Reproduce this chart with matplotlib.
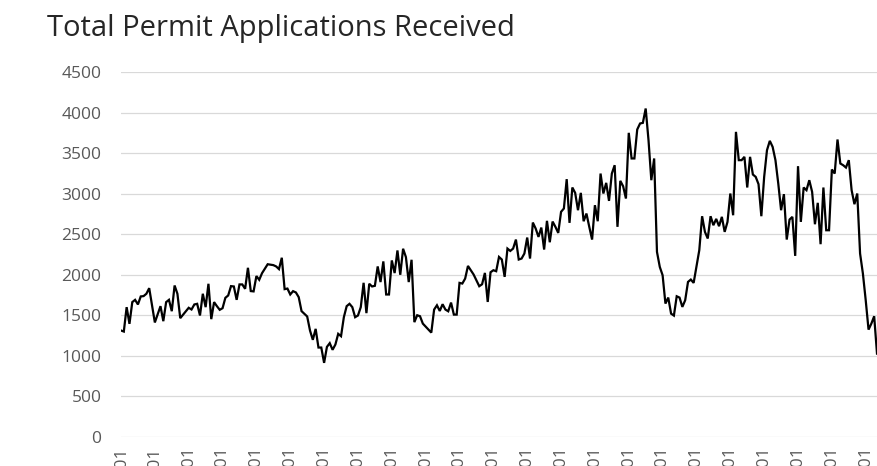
import matplotlib
matplotlib.use('Agg')
import matplotlib.pyplot as plt

# month index (0 = first January) and applications received
months = [0, 1, 2, 3, 4, 5, 6, 7, 8, 9, 10, 12, 14, 15, 16, 17, 18, 19, 20, 21,
          23, 24, 25, 26, 27, 28, 29, 30, 31, 32, 33, 34, 35, 36, 37, 38, 39, 40, 41, 42,
          43, 44, 45, 46, 47, 48, 49, 50, 52, 54, 55, 56, 57, 58, 59, 60, 61, 62, 63, 64,
          65, 66, 67, 68, 69, 70, 71, 72, 73, 74, 75, 76, 77, 78, 79, 80, 81, 82, 83, 84,
          85, 86, 87, 88, 89, 90, 91, 92, 93, 94, 95, 96, 97, 98, 99, 100, 101, 102, 103, 104,
          105, 106, 107, 109, 110, 111, 112, 113, 114, 115, 116, 117, 118, 119, 120, 121, 122, 123, 124, 125,
          127, 128, 129, 130, 131, 132, 133, 134, 135, 136, 137, 138, 139, 140, 141, 142, 143, 144, 145, 146,
          147, 148, 149, 150, 151, 152, 153, 154, 155, 156, 157, 158, 159, 160, 161, 162, 163, 164, 165, 166,
          167, 168, 169, 170, 171, 172, 173, 174, 175, 176, 177, 178, 179, 180, 181, 182, 183, 184, 185, 186,
          187, 188, 189, 190, 191, 192, 193, 194, 195, 196, 197, 198, 199, 200, 201, 202, 203, 204, 205, 206,
          207, 208, 209, 210, 211, 212, 213, 214, 215, 216, 217, 218, 219, 220, 221, 222, 223, 224, 225, 226,
          227, 228, 229, 230, 231, 232, 233, 234, 235, 236, 237, 238, 239, 240, 241, 242, 243, 244, 245, 246,
          247, 248, 249, 250, 251, 252, 253, 254, 255, 256, 257, 258, 259, 260, 261, 262, 263, 264, 265, 266,
          267, 268]
applications = [1313, 1300, 1601, 1395, 1663, 1691, 1634, 1733, 1737, 1766, 1835, 1412, 1613, 1428, 1663, 1691, 1551, 1868, 1766, 1465,
                1551, 1593, 1572, 1634, 1642, 1498, 1766, 1601, 1889, 1453, 1663, 1613, 1568, 1588, 1716, 1745, 1860, 1856, 1691, 1881,
                1881, 1827, 2086, 1799, 1795, 1984, 1938, 2020, 2130, 2119, 2103, 2070, 2210, 1823, 1830, 1757, 1798, 1782, 1724, 1552,
                1519, 1486, 1313, 1198, 1333, 1103, 1103, 914, 1111, 1157, 1075, 1140, 1272, 1243, 1477, 1613, 1642, 1601, 1477, 1498,
                1601, 1901, 1527, 1889, 1856, 1864, 2103, 1910, 2165, 1757, 1757, 2177, 2021, 2300, 2000, 2321, 2218, 1910, 2185, 1416,
                1501, 1489, 1398, 1324, 1287, 1571, 1624, 1554, 1637, 1571, 1550, 1657, 1509, 1509, 1900, 1892, 1953, 2109, 2056, 2003,
                1859, 1883, 2023, 1665, 2031, 2056, 2044, 2220, 2188, 1974, 2323, 2294, 2323, 2434, 2188, 2200, 2262, 2459, 2200, 2644,
                2570, 2467, 2582, 2311, 2665, 2401, 2656, 2591, 2516, 2776, 2817, 3179, 2640, 3076, 3010, 2796, 3010, 2660, 2755, 2591,
                2434, 2858, 2660, 3248, 3002, 3133, 2911, 3248, 3351, 2591, 3158, 3092, 2940, 3750, 3434, 3434, 3791, 3865, 3873, 4050,
                3660, 3166, 3434, 2282, 2097, 1994, 1645, 1719, 1521, 1497, 1735, 1719, 1604, 1686, 1912, 1941, 1900, 2105, 2303, 2722,
                2529, 2447, 2722, 2611, 2689, 2599, 2714, 2529, 2652, 3002, 2734, 3762, 3413, 3413, 3454, 3076, 3454, 3236, 3207, 3117,
                2722, 3207, 3536, 3651, 3577, 3413, 3125, 2796, 2994, 2434, 2681, 2714, 2233, 3339, 2652, 3076, 3043, 3166, 3022, 2623,
                2887, 2377, 3076, 2549, 2549, 3298, 3248, 3668, 3372, 3351, 3322, 3413, 3043, 2870, 3002, 2262, 2015, 1686, 1324, 1398,
                1489, 1028]

first_year = 1998
tick_months = list(range(0, 265, 12))
tick_labels = [f"{first_year + i}-01" for i in range(len(tick_months))]

plt.rcParams['font.family'] = ['Open Sans', 'DejaVu Sans']

fig = plt.figure(figsize=(8.77, 4.66), dpi=100)
ax = fig.add_axes([121 / 877, 1 - 437 / 466, 756 / 877, 365 / 466])

ax.plot(months, applications, color='black', linewidth=1.6, solid_joinstyle='miter')

ax.set_xlim(0, 268)
ax.set_ylim(0, 4500)
ax.set_yticks(range(0, 4501, 500))
ax.set_xticks(tick_months)
ax.set_xticklabels(tick_labels, rotation=90, va='top')

ax.grid(axis='y', color='#d9d9d9', linewidth=0.9)
ax.set_axisbelow(True)
for s in ax.spines.values():
    s.set_visible(False)
ax.tick_params(axis='y', length=0, pad=14, labelsize=12.5, labelcolor='#595959')
ax.tick_params(axis='x', length=0, pad=7, labelsize=12.5, labelcolor='#595959')

fig.text(47 / 877, 1 - 36 / 466, 'Total Permit Applications Received',
         fontsize=21, color='#262626', ha='left', va='baseline')

fig.savefig('out.png', dpi=100)
